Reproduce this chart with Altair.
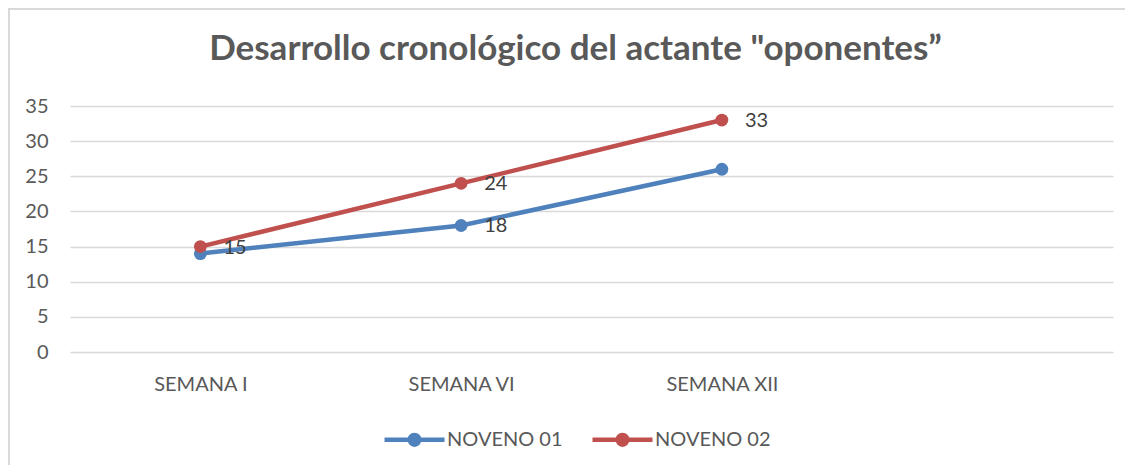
import altair as alt
import pandas as pd

# ---- data ----
categories = ["SEMANA I", "SEMANA VI", "SEMANA XII"]
axis_domain = categories + [""]          # the chart leaves an empty 4th slot
series = ["NOVENO 01", "NOVENO 02"]
noveno_01 = [14, 18, 26]
noveno_02 = [15, 24, 33]
labels_01 = ["", "18", ""]
labels_02 = ["15", "24", "33"]
colors = ["#4F81BD", "#C0504D"]
y_ticks = [0, 5, 10, 15, 20, 25, 30, 35]
title_text = 'Desarrollo cronológico del actante "oponentes”'

rows = []
for s, vals, labs in zip(series, [noveno_01, noveno_02], [labels_01, labels_02]):
    for c, v, l in zip(categories, vals, labs):
        rows.append({"semana": c, "serie": s, "valor": v, "etiqueta": l})
df = pd.DataFrame(rows)

FONT = "Lato"
GREY = "#595959"
W, H = 1043, 246

legend_path = ("M -1 0 L 1 0 "
               "M 0.16 0 A 0.16 0.16 0 1 1 -0.16 0 A 0.16 0.16 0 1 1 0.16 0 Z")

x_enc = alt.X(
    "semana:N",
    sort=None,
    scale=alt.Scale(type="point", domain=axis_domain, padding=0.5),
    axis=alt.Axis(title=None, labelAngle=0, domain=False, ticks=False, grid=False,
                  labelFont=FONT, labelFontSize=20, labelColor=GREY, labelPadding=22),
)
y_enc = alt.Y(
    "valor:Q",
    scale=alt.Scale(domain=[0, 35], nice=False, zero=True),
    axis=alt.Axis(title=None, values=y_ticks, domain=False, ticks=False, grid=True,
                  gridColor="#d9d9d9", gridWidth=1.6,
                  labelFont=FONT, labelFontSize=20, labelColor=GREY, labelPadding=22),
)
color_enc = alt.Color(
    "serie:N",
    scale=alt.Scale(domain=series, range=colors),
    legend=alt.Legend(title=None, orient="none", direction="horizontal",
                      legendX=312, legendY=301,
                      symbolType=legend_path, symbolSize=3600, symbolStrokeWidth=4.5,
                      labelFont=FONT, labelFontSize=20, labelColor=GREY,
                      labelOffset=0, columnPadding=20),
)

base = alt.Chart(df)

lines = base.mark_line(strokeWidth=4.5).encode(x=x_enc, y=y_enc, color=color_enc,
                                               detail="serie:N")
points = base.mark_point(filled=True, size=165, opacity=1).encode(
    x=x_enc, y=y_enc, color=color_enc)
texts = base.mark_text(align="left", baseline="middle", dx=23, dy=1,
                       font=FONT, fontSize=20, color="#404040").encode(
    x=x_enc, y=y_enc, text="etiqueta:N")

border = alt.Chart(pd.DataFrame({"k": [0]})).mark_rect(
    fill=None, stroke="#d9d9d9", strokeWidth=2).encode(
    x=alt.value(-61), x2=alt.value(2000), y=alt.value(-97), y2=alt.value(600))

chart = alt.layer(border, lines, points, texts).properties(
    width=W, height=H,
    title=alt.TitleParams(title_text, font=FONT, fontSize=35, fontWeight="bold",
                          color=GREY, anchor="middle", offset=0, dy=59, dx=-16,
                          frame="group"),
    padding={"left": 62, "top": 98, "right": 12, "bottom": 113},
    autosize=alt.AutoSizeParams(type="none"),
).configure_view(stroke=None)

chart.save("out.html", embed_options={"renderer": "svg", "actions": False})
